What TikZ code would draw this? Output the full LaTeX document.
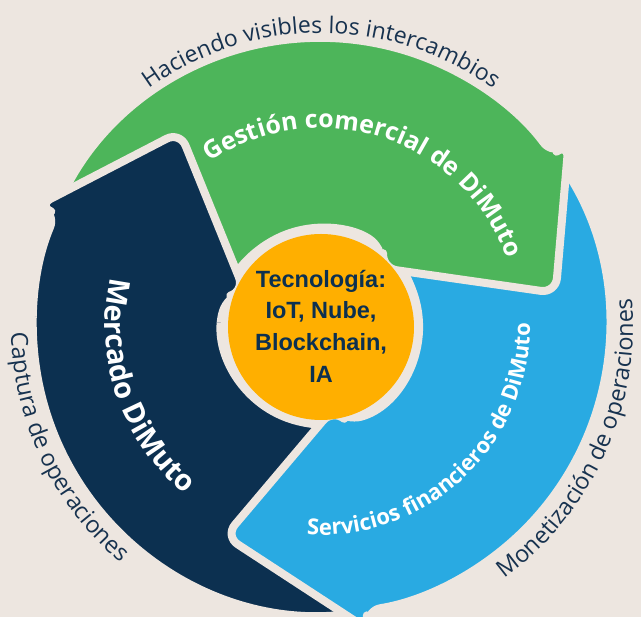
\documentclass[tikz,border=0pt]{standalone}
\usepackage{fontspec}
\setmainfont{Open Sans}
\newfontfamily\centerfont{Liberation Sans}
\usetikzlibrary{decorations.text}
\definecolor{bg}{HTML}{EDE6E0}
\definecolor{cgreen}{HTML}{4DB55A}
\definecolor{cnavy}{HTML}{0C3050}
\definecolor{cblue}{HTML}{29AAE2}
\definecolor{corange}{HTML}{FFAF00}
\definecolor{ctext}{HTML}{17324F}
\tikzset{arrowshape/.style={fill=#1, draw=bg, line width=8pt, line join=round, rounded corners=15pt}}
% #1 colour, #2 tip angle, #3 tip radius, #4 outer barb angle, #5 inner barb angle, #6 tail angle
\newcommand\cyclearrow[6]{%
  \path[arrowshape=#1]
    (#6:288) arc[start angle=#6, end angle=#4, radius=288]
    -- (#4:308) -- (#2:#3) -- (#5:84) -- ({#5+7}:98)
    arc[start angle={#5+7}, end angle=#6, radius=98] -- cycle;}
\begin{document}
\begin{tikzpicture}[x=1pt,y=1pt]
\useasboundingbox (0,0) rectangle (641,617);
\clip (0,0) rectangle (641,617);
\fill[bg] (0,0) rectangle (641,617);
\begin{scope}[shift={(321,291)}]
  \cyclearrow{cnavy}{126}{240}{157}{155.5}{283}
  \cyclearrow{cblue}{245.5}{231}{279}{278}{403}
  \cyclearrow{cgreen}{8}{237}{36.5}{43.5}{163}
  \begin{scope}
    \clip (0,0) -- (100:420) arc[start angle=100, end angle=178, radius=420] -- cycle;
    \cyclearrow{cnavy}{126}{240}{157}{155.5}{283}
  \end{scope}
  \fill[corange] (0,-1) circle[radius=93];
  \node[name=tech, align=center, text=cnavy, font=\centerfont\bfseries\fontsize{23.5}{31.7}\selectfont] at (0,0) {Tecnología:\\IoT, Nube,\\Blockchain,\\IA};
  % outer labels
  \path[decorate, decoration={text along path, text align=center, text color=ctext,
      text={|\fontsize{23}{23}\selectfont|Haciendo visibles los intercambios}}]
    (140:293) arc[start angle=140, end angle=40, radius=293];
  \path[decorate, decoration={text along path, text align=center, text color=ctext,
      text={|\fontsize{23.5}{23.5}\selectfont|Captura de operaciones}}]
    (160.5:310) arc[start angle=160.5, end angle=250.5, radius=310];
  \path[decorate, decoration={text along path, text align=center, text color=ctext,
      text={|\fontsize{23.5}{23.5}\selectfont|Monetización de operaciones}}]
    (-69.5:312) arc[start angle=-69.5, end angle=20.5, radius=312];
  % arrow labels
  \path[decorate, decoration={text along path, text align=center, text color=white,
      text={|\bfseries\fontsize{25}{25}\selectfont|Gestión comercial de DiMuto}}]
    (132:198) arc[start angle=132, end angle=12, radius=198];
  \path[decorate, decoration={text along path, text align=center, text color=white,
      text={|\bfseries\fontsize{29}{29}\selectfont|Mercado DiMuto}}]
    (158.5:216) arc[start angle=158.5, end angle=239.5, radius=216];
  \path[decorate, decoration={text along path, text align=center, text color=white,
      text={|\bfseries\fontsize{22}{22}\selectfont|Servicios financieros de DiMuto}}]
    (258.5:209) arc[start angle=258.5, end angle=368.5, radius=209];
\end{scope}
\end{tikzpicture}
\end{document}
